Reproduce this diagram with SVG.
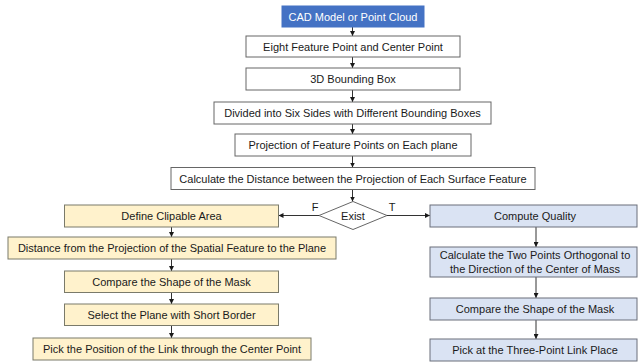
<svg xmlns="http://www.w3.org/2000/svg" width="638" height="363" viewBox="0 0 638 363">
<defs>
<marker id="ah" markerWidth="5" markerHeight="5" refX="5" refY="2.5" orient="auto" markerUnits="userSpaceOnUse">
<path d="M0,0 L5,2.5 L0,5 z" fill="#1a1a1a"/>
</marker>
</defs>
<style>
.b{fill:#ffffff;stroke:#666666;stroke-width:1}
.y{fill:#fff2cc;stroke:#7a7a6a;stroke-width:1}
.l{fill:#dae3f3;stroke:#6a6f7a;stroke-width:1}
.s{fill:#4472c4;stroke:#4472c4;stroke-width:1}
text{font-family:"Liberation Sans",Arial,sans-serif;font-size:11px;fill:#1a1a1a;text-anchor:middle}
.w{fill:#ffffff}
.c line,.c polyline{stroke:#333333;stroke-width:1;fill:none;marker-end:url(#ah)}
</style>
<rect width="638" height="363" fill="#ffffff"/>
<g class="c" id="connectors">
<line x1="352.5" y1="27" x2="352.5" y2="36"/>
<line x1="352.5" y1="57" x2="352.5" y2="68"/>
<line x1="352.5" y1="90" x2="352.5" y2="102"/>
<line x1="352.5" y1="124" x2="352.5" y2="134"/>
<line x1="352.5" y1="156" x2="352.5" y2="167.5"/>
<line x1="352.5" y1="189.5" x2="352.5" y2="201.5"/>
<line x1="319" y1="215.5" x2="278.5" y2="215.5"/>
<line x1="387" y1="215.5" x2="430" y2="215.5"/>
<line x1="171.5" y1="227" x2="171.5" y2="237"/>
<line x1="171.5" y1="259" x2="171.5" y2="271"/>
<line x1="171.5" y1="292.5" x2="171.5" y2="304"/>
<line x1="171.5" y1="325.5" x2="171.5" y2="338"/>
<line x1="536" y1="227" x2="536" y2="247"/>
<line x1="536" y1="277" x2="536" y2="298"/>
<line x1="536" y1="320" x2="536" y2="339"/>
</g>
<g id="n-cad"><rect class="s" x="282" y="6" width="142" height="21"/><text class="w" x="353" y="20.5">CAD Model or Point Cloud</text></g>
<g id="n-eight"><rect class="b" x="246" y="36" width="214" height="21"/><text x="353" y="50.5">Eight Feature Point and Center Point</text></g>
<g id="n-3d"><rect class="b" x="246" y="68" width="214" height="22"/><text x="353" y="83">3D Bounding Box</text></g>
<g id="n-divided"><rect class="b" x="214" y="102" width="277" height="22"/><text x="352.5" y="117">Divided into Six Sides with Different Bounding Boxes</text></g>
<g id="n-proj"><rect class="b" x="235" y="134" width="236" height="22"/><text x="353" y="149">Projection of Feature Points on Each plane</text></g>
<g id="n-calc"><rect class="b" x="171" y="167.5" width="364" height="22"/><text x="353" y="182.5">Calculate the Distance between the Projection of Each Surface Feature</text></g>
<g id="n-exist"><polygon class="b" points="353,201.5 387,215.5 353,229.5 319,215.5"/><text x="353" y="219.5">Exist</text><text x="315" y="211">F</text><text x="392" y="211">T</text></g>
<g id="n-define"><rect class="y" x="64.5" y="205" width="214" height="22"/><text x="171.5" y="220">Define Clipable Area</text></g>
<g id="n-distance"><rect class="y" x="8" y="237" width="328" height="22"/><text x="172" y="252">Distance from the Projection of the Spatial Feature to the Plane</text></g>
<g id="n-compareL"><rect class="y" x="64.5" y="271" width="214" height="21.5"/><text x="171.5" y="285.5">Compare the Shape of the Mask</text></g>
<g id="n-select"><rect class="y" x="64.5" y="304" width="214" height="21.5"/><text x="171.5" y="318.5">Select the Plane with Short Border</text></g>
<g id="n-pickL"><rect class="y" x="33" y="338" width="278" height="22"/><text x="172" y="353">Pick the Position of the Link through the Center Point</text></g>
<g id="n-compute"><rect class="l" x="430" y="205" width="207" height="22"/><text x="535" y="220">Compute Quality</text></g>
<g id="n-two"><rect class="l" x="430" y="247" width="207" height="30"/><text x="535" y="259">Calculate the Two Points Orthogonal to</text><text x="535" y="272.5">the Direction of the Center of Mass</text></g>
<g id="n-compareR"><rect class="l" x="430" y="298" width="207" height="22"/><text x="535" y="313">Compare the Shape of the Mask</text></g>
<g id="n-pickR"><rect class="l" x="430" y="339" width="207" height="22"/><text x="535" y="354">Pick at the Three-Point Link Place</text></g>
</svg>
